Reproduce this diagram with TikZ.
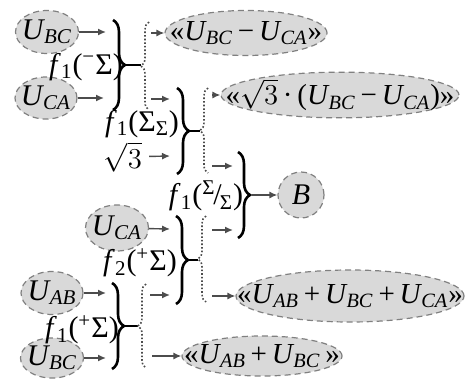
\documentclass[tikz,border=0pt]{standalone}
\usepackage{fontspec}
\usepackage{amsmath}
\setmainfont{Liberation Serif}
\usetikzlibrary{arrows.meta,shapes.geometric,decorations.pathreplacing}
\newcommand{\nowd}[1]{\makebox[0pt]{#1}}
\newcommand{\vl}[2]{\textit{#1}\kern-0.5pt\textsubscript{\textit{#2}}}
\newcommand{\fsub}[2]{\textit{f}\textsubscript{#1}(#2)}

\begin{document}
\begin{tikzpicture}[
  x=0.5pt, y=-0.5pt,
  every node/.style={font=\fontsize{15}{18}\selectfont},
  sig/.style={ellipse, draw=gray, densely dashed, line width=0.6pt, fill=gray!30, inner sep=0pt},
  wide/.style={sig, font=\fontsize{14.5}{17}\selectfont},
  flow/.style={-{Latex[length=4pt,width=3.5pt]}, line width=0.7pt, draw=black!70},
  brc/.style={decorate, decoration={brace, amplitude=6pt}, line width=1.3pt},
  split/.style={decorate, decoration={brace, amplitude=4pt, mirror}, densely dotted, line width=0.8pt, draw=black!70},
  link/.style={line width=0.8pt}
]
\useasboundingbox (0,0) rectangle (467,380);

% group 1: U_BC - U_CA
\node[sig, minimum width=31.5pt, minimum height=21.5pt] (ubc1) at (47,32) {\nowd{\vl{U}{BC}}};
\node[sig, minimum width=31pt, minimum height=21pt] (uca1) at (46,98) {\nowd{\vl{U}{CA}}};
\node (fa) at (86,67) {\fsub{1}{\textsuperscript{−}Σ}};
\node[wide, minimum width=81pt, minimum height=22.5pt] (out1) at (246,33) {\nowd{«\vl{U}{BC}\,−\,\vl{U}{CA}»}};

\coordinate (a1) at (106,32);  \coordinate (a2) at (104,98);
\coordinate (b1t) at (113,20); \coordinate (b1b) at (113,110); \coordinate (t1) at (125,65);
\coordinate (s1t) at (149,110); \coordinate (s1b) at (149,22); \coordinate (d1) at (141,65);
\coordinate (c1) at (151,33);  \coordinate (c2) at (151,99);

\draw[flow] (ubc1) -- (a1);
\draw[flow] (uca1) -- (a2);
\draw[brc] (b1t) -- (b1b);
\draw[link] (t1) -- (d1);
\draw[split] (s1b) -- (s1t);
\draw[flow] (c1) -- (out1);

% group 2: sqrt3 * (U_BC - U_CA)
\node (fb) at (142,124) {\fsub{1}{Σ\textsubscript{Σ}}};
\node (rt) at (123,157) {$\sqrt{3}$};
\node[wide, minimum width=119pt, minimum height=20pt] (out2) at (340,95) {\nowd{«$\sqrt{3}$\,·\,(\vl{U}{BC}\,−\,\vl{U}{CA})»}};

\coordinate (a3) at (170,99);  \coordinate (a4) at (170,156);
\coordinate (b2t) at (177,88); \coordinate (b2b) at (177,174); \coordinate (t2) at (189,131);
\coordinate (s2t) at (208,173); \coordinate (s2b) at (208,88); \coordinate (d2) at (200,131);
\coordinate (c3) at (212,95);  \coordinate (c4) at (212,166);

\draw[flow] (c2) -- (a3);
\draw[flow] (rt) -- (a4);
\draw[brc] (b2t) -- (b2b);
\draw[link] (t2) -- (d2);
\draw[split] (s2b) -- (s2t);
\draw[flow] (c3) -- (out2);

% group 3: B
\node (fc) at (206,196) {\fsub{1}{\textsuperscript{Σ}\kern-1pt/\kern-1pt\textsubscript{Σ}}};
\node[sig, circle, minimum size=23pt] (bout) at (301,195) {\textit{B}};

\coordinate (a5) at (233,166); \coordinate (a6) at (233,230);
\coordinate (b3t) at (238,152); \coordinate (b3b) at (238,238); \coordinate (t3) at (252,195);

\draw[flow] (c4) -- (a5);
\draw[brc] (b3t) -- (b3b);
\draw[flow] (t3) -- (bout);

% group 4: U_AB + U_BC + U_CA
\node[sig, minimum width=31.5pt, minimum height=23pt] (uca2) at (117,228) {\nowd{\vl{U}{CA}}};
\node (fd) at (140,263) {\fsub{2}{\textsuperscript{+}Σ}};
\node[wide, minimum width=114pt, minimum height=26pt] (out3) at (350,296) {\nowd{«\vl{U}{AB}\,+\,\vl{U}{BC}\,+\,\vl{U}{CA}»}};

\coordinate (a7) at (170,229);
\coordinate (b4t) at (176,216); \coordinate (b4b) at (176,304); \coordinate (t4) at (188,260);
\coordinate (s4t) at (206,302); \coordinate (s4b) at (206,216); \coordinate (d4) at (198,260);
\coordinate (c5) at (212,230); \coordinate (c6) at (212,296);

\draw[flow] (uca2) -- (a7);
\draw[brc] (b4t) -- (b4b);
\draw[link] (t4) -- (d4);
\draw[split] (s4b) -- (s4t);
\draw[flow] (c5) -- (a6);
\draw[flow] (c6) -- (out3);

% group 5: U_AB + U_BC
\node[sig, minimum width=31pt, minimum height=21.5pt] (uab) at (52,293) {\nowd{\vl{U}{AB}}};
\node[sig, minimum width=31.5pt, minimum height=20pt] (ubc2) at (52,358) {\nowd{\vl{U}{BC}}};
\node (fe) at (82,330) {\fsub{1}{\textsuperscript{+}Σ}};
\node[wide, minimum width=80pt, minimum height=20pt] (out4) at (262,356) {\nowd{«\vl{U}{AB}\,+\,\vl{U}{BC}\,»}};

\coordinate (a8) at (106,293); \coordinate (a9) at (106,358);
\coordinate (b5t) at (112,283); \coordinate (b5b) at (112,369); \coordinate (t5) at (124,326);
\coordinate (s5t) at (146,368); \coordinate (s5b) at (146,284); \coordinate (d5) at (138,326);
\coordinate (c7) at (150,295); \coordinate (a10) at (170,295); \coordinate (c8) at (152,356);

\draw[flow] (uab) -- (a8);
\draw[flow] (ubc2) -- (a9);
\draw[brc] (b5t) -- (b5b);
\draw[link] (t5) -- (d5);
\draw[split] (s5b) -- (s5t);
\draw[flow] (c7) -- (a10);
\draw[flow] (c8) -- (out4);

\end{tikzpicture}
\end{document}
